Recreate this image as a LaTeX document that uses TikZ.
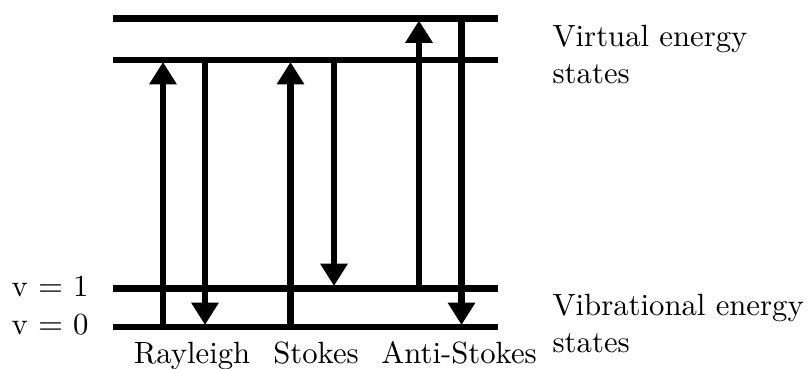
\documentclass[tikz,border=0pt]{standalone}
\usetikzlibrary{arrows.meta}
\begin{document}
\begin{tikzpicture}[x=0.3125pt,y=-0.3125pt,
  font=\fontsize{9.6}{11.5}\selectfont,
  level/.style={line width=1.9pt},
  trans/.style={line width=1.9pt,-{Triangle[width=8.2pt,length=7pt]}},
  lbl/.style={inner sep=0pt,anchor=base west},
  clbl/.style={inner sep=0pt,anchor=base}]
\useasboundingbox (0,0) rectangle (808,369);
% levels
\coordinate (t0) at (113,18.5); \coordinate (t1) at (498,18.5);
\coordinate (s0) at (113,60);   \coordinate (s1) at (498,60);
\coordinate (a0) at (113,288.5);\coordinate (a1) at (498,288.5);
\coordinate (b0) at (113,327);  \coordinate (b1) at (498,327);
\draw[level] (t0) -- (t1);
\draw[level] (s0) -- (s1);
\draw[level] (a0) -- (a1);
\draw[level] (b0) -- (b1);
% transitions
\coordinate (r1s) at (163,327);   \coordinate (r1e) at (163,62);
\coordinate (r2s) at (205,60);    \coordinate (r2e) at (205,325);
\coordinate (s1s) at (290.5,327); \coordinate (s1e) at (290.5,62);
\coordinate (s2s) at (334,60);    \coordinate (s2e) at (334,286);
\coordinate (a1s) at (419,288.5); \coordinate (a1e) at (419,20.5);
\coordinate (a2s) at (461.5,18.5);\coordinate (a2e) at (461.5,325);
\draw[trans] (r1s) -- (r1e);
\draw[trans] (r2s) -- (r2e);
\draw[trans] (s1s) -- (s1e);
\draw[trans] (s2s) -- (s2e);
\draw[trans] (a1s) -- (a1e);
\draw[trans] (a2s) -- (a2e);
% labels
\node[lbl] (v1) at (11,297) {v $=$ 1};
\node[lbl] (v0) at (11,335) {v $=$ 0};
\node[clbl] (ray) at (192,364) {Rayleigh};
\node[clbl] (sto) at (316,364) {Stokes};
\node[clbl] (ant) at (459,364) {Anti-Stokes};
\node[lbl] (vir1) at (552,47) {Virtual energy};
\node[lbl] (vir2) at (552,84) {states};
\node[lbl] (vib1) at (552,316) {Vibrational energy};
\node[lbl] (vib2) at (552,353) {states};
\end{tikzpicture}
\end{document}
